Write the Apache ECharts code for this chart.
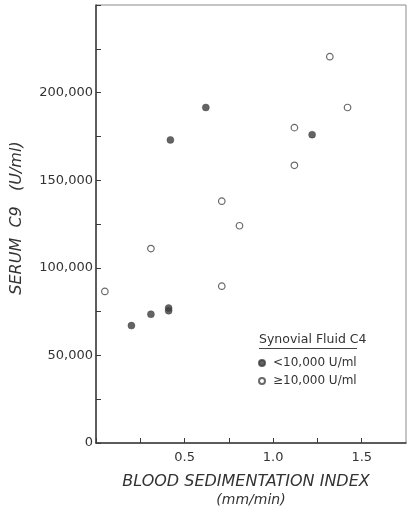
<!DOCTYPE html>
<html>
<head>
<meta charset="utf-8">
<style>
html,body{margin:0;padding:0;background:#fff;}
#chart{width:410px;height:509px;}
</style>
<script src="https://cdn.jsdelivr.net/npm/echarts@6/dist/echarts.min.js"></script>
</head>
<body>
<div id="chart"></div>
<script>
// Data
var lowC4 = [ // Synovial Fluid C4 < 10,000 U/ml (filled)
  [0.20, 67000],
  [0.31, 73500],
  [0.41, 77000],
  [0.41, 75500],
  [0.42, 173000],
  [0.62, 191500],
  [1.22, 176000]
];
var highC4 = [ // Synovial Fluid C4 >= 10,000 U/ml (open)
  [0.05, 86500],
  [0.31, 111000],
  [0.71, 89500],
  [0.71, 138000],
  [0.81, 124000],
  [1.12, 158500],
  [1.12, 180000],
  [1.32, 220500],
  [1.42, 191500]
];
var xTickLabels = [0.5, 1.0, 1.5];
var yTickLabels = [0, 50000, 100000, 150000, 200000];
var seriesNames = ['<10,000 U/ml', '\u226510,000 U/ml'];
var legendTitle = 'Synovial Fluid C4';
var xTitle = 'BLOOD SEDIMENTATION INDEX';
var xUnit = '(mm/min)';
var yTitle = 'SERUM  C9   (U/ml)';

function fmtComma(v){
  return String(v).replace(/\B(?=(\d{3})+(?!\d))/g, ',');
}

var chart = echarts.init(document.getElementById('chart'), null, {renderer:'canvas'});
var axisColor = '#3a3a3a';
var txtColor = '#333';
var font = 'DejaVu Sans';

chart.setOption({
  animation: false,
  backgroundColor: '#fff',
  grid: {
    left: 96, right: 4, top: 5, bottom: 66,
    show: true, borderColor: '#8a8a8a', borderWidth: 1
  },
  xAxis: {
    type: 'value', min: 0, max: 1.75, interval: 0.25,
    axisLine: {show: true, onZero: false, lineStyle: {color: axisColor, width: 1.5}},
    axisTick: {show: true, inside: true, length: 5, lineStyle: {color: axisColor, width: 1}},
    splitLine: {show: false},
    axisLabel: {
      margin: 8, color: txtColor, fontFamily: font, fontSize: 13,
      showMaxLabel: false,
      formatter: function(v){
        for (var i = 0; i < xTickLabels.length; i++) {
          if (Math.abs(v - xTickLabels[i]) < 1e-9) return xTickLabels[i].toFixed(1);
        }
        return '';
      }
    }
  },
  yAxis: {
    type: 'value', min: 0, max: 250000, interval: 25000,
    axisLine: {show: true, onZero: false, lineStyle: {color: axisColor, width: 1.5}},
    axisTick: {show: true, inside: true, length: 5, lineStyle: {color: axisColor, width: 1}},
    splitLine: {show: false},
    axisLabel: {
      margin: 3, color: txtColor, fontFamily: font, fontSize: 13,
      formatter: function(v){
        return yTickLabels.indexOf(v) >= 0 ? fmtComma(v) : '';
      }
    }
  },
  legend: {
    orient: 'vertical',
    left: 253, top: 352,
    itemWidth: 6, itemHeight: 6, itemGap: 6,
    icon: 'circle',
    textStyle: {color: txtColor, fontFamily: font, fontSize: 12, padding: [0,0,0,3]},
    data: seriesNames
  },
  series: [
    {
      name: seriesNames[0], type: 'scatter', data: lowC4,
      symbol: 'circle', symbolSize: 7,
      itemStyle: {color: '#3d3d3d', borderColor: '#3d3d3d', borderWidth: 0.5}
    },
    {
      name: seriesNames[1], type: 'scatter', data: highC4,
      symbol: 'circle', symbolSize: 6.5,
      itemStyle: {color: '#fff', borderColor: '#444', borderWidth: 1.2}
    }
  ],
  graphic: [
    {
      type: 'text', left: 259, top: 333,
      style: {text: legendTitle, fill: txtColor, font: '12.5px "DejaVu Sans"'}
    },
    {
      type: 'line', shape: {x1: 259, y1: 348.5, x2: 357, y2: 348.5},
      style: {stroke: '#444', lineWidth: 1}
    },
    {
      type: 'text', x: 246, y: 482,
      style: {text: xTitle, fill: txtColor, font: 'italic 16px "DejaVu Sans"', textAlign: 'center', textVerticalAlign: 'middle'}
    },
    {
      type: 'text', x: 251, y: 500,
      style: {text: xUnit, fill: txtColor, font: 'italic 14px "DejaVu Sans"', textAlign: 'center', textVerticalAlign: 'middle'}
    },
    {
      type: 'text', x: 17, y: 218, rotation: Math.PI / 2,
      style: {text: yTitle, fill: txtColor, font: 'italic 16px "DejaVu Sans"', textAlign: 'center', textVerticalAlign: 'middle'}
    }
  ]
});
</script>
</body>
</html>
